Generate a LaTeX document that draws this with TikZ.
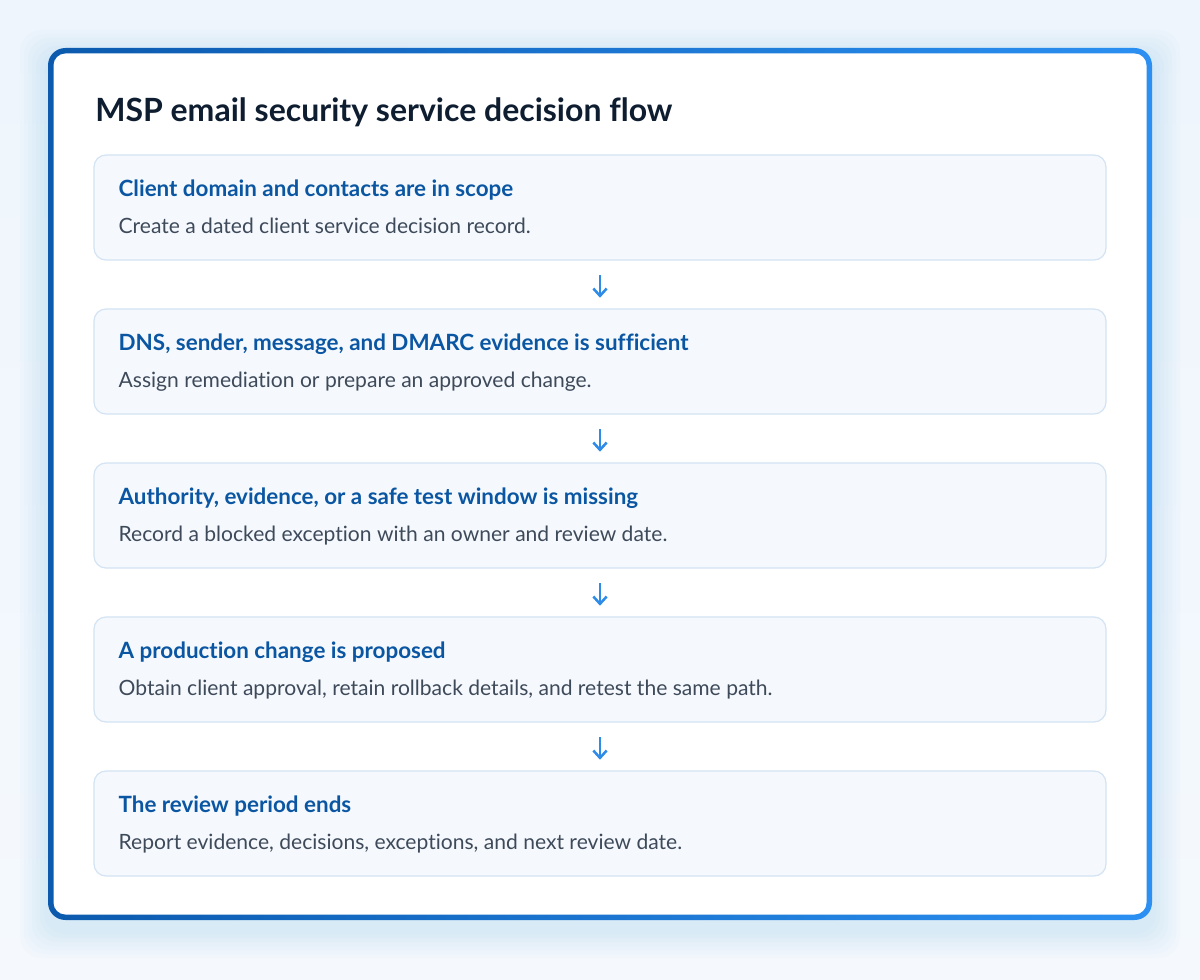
\documentclass[tikz,border=0pt]{standalone}
\usepackage{fontspec}
\setmainfont{Lato}[Ligatures={NoCommon,NoRare,NoDiscretionary}]
\usetikzlibrary{arrows.meta}
\definecolor{pagebg}{HTML}{EEF5FC}
\definecolor{framedark}{HTML}{0B5AAE}
\definecolor{framelight}{HTML}{2B90F2}
\definecolor{cardline}{HTML}{D3E3F3}
\definecolor{cardfill}{HTML}{F5F9FD}
\definecolor{headblue}{HTML}{0B56A2}
\definecolor{bodygray}{HTML}{3E4A5A}
\definecolor{titleink}{HTML}{0E1D30}
\definecolor{arrowblue}{HTML}{2E8BE8}
\tikzset{
  stepcard/.style={draw=cardline, fill=cardfill, line width=0.9pt, rounded corners=9pt,
    minimum width=759pt, minimum height=78.75pt, inner sep=0pt},
  headtext/.style={anchor=base west, inner sep=0pt, text=headblue, font=\fontsize{16.8}{20}\selectfont\bfseries},
  bodytext/.style={anchor=base west, inner sep=0pt, text=bodygray, font=\fontsize{15.8}{18}\selectfont},
  flowarrow/.style={draw=arrowblue, line width=1.9pt, -{Straight Barb[length=5.5pt,width=10pt]}}
}
\begin{document}
\begin{tikzpicture}[x=0.75pt,y=-0.75pt]
  \useasboundingbox (0,0) rectangle (1200,980);
  % page
  \shade[top color=pagebg, bottom color=pagebg!60!white] (0,0) rectangle (1200,980);
  % soft shadow
  \foreach \s in {4,8,...,28}
    \fill[framelight, opacity=0.018, rounded corners=16pt] (48-\s,48-\s+10) rectangle (1152+\s,920+\s+10);
  % frame
  \shade[shading=axis, shading angle=60, left color=framedark, right color=framelight, rounded corners=13pt]
    (48,48) rectangle (1152,920);
  \fill[white, rounded corners=9pt] (53.5,53.5) rectangle (1146.5,914.5);
  % title
  \node[anchor=base west, inner sep=0pt, text=titleink, font=\fontsize{24}{28}\selectfont\bfseries]
    (title) at (95,122) {MSP email security service decision flow};
  % steps
  \foreach \i/\head/\body in {
    1/{Client domain and contacts are in scope}/{Create a dated client service decision record.},
    2/{DNS, sender, message, and DMARC evidence is sufficient}/{Assign remediation or prepare an approved change.},
    3/{Authority, evidence, or a safe test window is missing}/{Record a blocked exception with an owner and review date.},
    4/{A production change is proposed}/{Obtain client approval, retain rollback details, and retest the same path.},
    5/{The review period ends}/{Report evidence, decisions, exceptions, and next review date.}}{
    \node[stepcard] (b\i) at (600,53.5+154*\i) {};
    \node[headtext] (h\i) at ([xshift=18.75pt,yshift=-31.5pt]b\i.north west) {\head};
    \node[bodytext] (t\i) at ([xshift=18.75pt,yshift=-59.25pt]b\i.north west) {\body};
  }
  % arrows
  \foreach \i [evaluate=\i as \j using int(\i+1)] in {1,...,4}
    \draw[flowarrow] ([yshift=-11pt]b\i.south) -- ([yshift=8pt]b\j.north);
\end{tikzpicture}
\end{document}
